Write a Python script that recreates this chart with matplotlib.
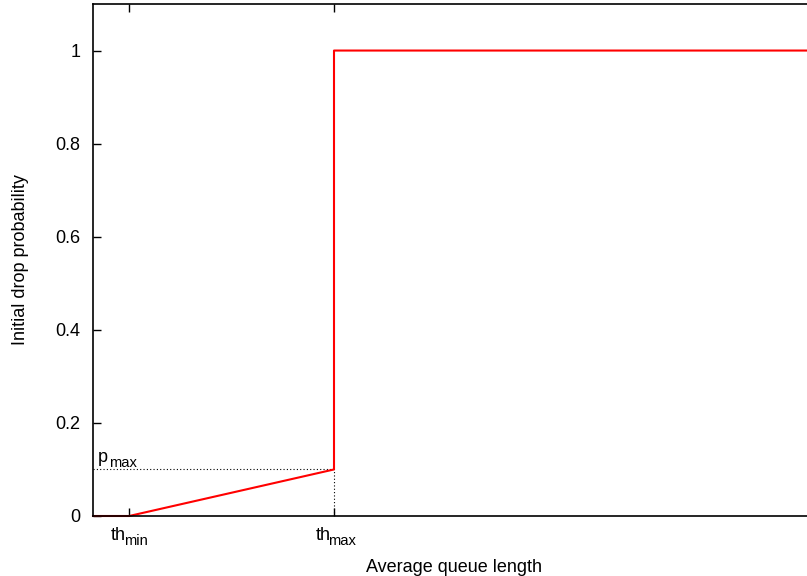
import matplotlib
matplotlib.use("Agg")
import matplotlib.pyplot as plt

plt.rcParams['font.family'] = ['Liberation Sans', 'DejaVu Sans']
plt.rcParams['font.size'] = 13

# RED drop curve (gentle drop off)
th_min = 3
th_max = 20
p_max = 0.1
x_end = 60
curve_x = [0, th_min, th_max, th_max, x_end]
curve_y = [0, 0, p_max, 1, 1]

yticks = [0, 0.2, 0.4, 0.6, 0.8, 1]
ytick_labels = ['0', '0.2', '0.4', '0.6', '0.8', '1']
xticks = [th_min, th_max]
xtick_subs = ['min', 'max']

fig = plt.figure(figsize=(8.07, 5.76), dpi=100)
ax = fig.add_axes([93 / 807, 60 / 576, 723 / 807, 512 / 576])


def sub_label(ax, base, sub, xy, coords, dx, dy, gap=-1.5):
    """ gnuplot style label: base text + a lowered, smaller subscript """
    ax.annotate(base, xy=xy, xycoords=coords, xytext=(dx, dy),
                textcoords='offset points', ha='right', va='baseline',
                fontsize=13, annotation_clip=False)
    ax.annotate(sub, xy=xy, xycoords=coords, xytext=(dx + gap, dy - 3.4),
                textcoords='offset points', ha='left', va='baseline',
                fontsize=10.6, annotation_clip=False)


# guide lines for p_max and th_max
ax.plot([0, th_max], [p_max, p_max], color='black', linestyle=(0, (1, 2)), linewidth=0.8)
ax.plot([th_max, th_max], [0, p_max], color='black', linestyle=(0, (1, 2)), linewidth=0.8)
sub_label(ax, 'p', 'max', (0, p_max), 'data', 11, 5.5, gap=0.2)

ax.plot(curve_x, curve_y, color='red', linewidth=1.5, clip_on=False, zorder=2)

ax.set_xlim(0, x_end)
ax.set_ylim(0, 1.1)
ax.set_yticks(yticks)
ax.set_yticklabels(ytick_labels)
ax.set_xticks(xticks)
ax.set_xticklabels(['', ''])
for x, s in zip(xticks, xtick_subs):
    sub_label(ax, 'th', s, (x, 0), ('data', 'axes fraction'), -2.5, -17.5)

ax.tick_params(direction='in', length=6, width=1, top=True, right=False, pad=9)
for s in ax.spines.values():
    s.set_linewidth(1.2)
    s.set_zorder(3)
ax.spines['right'].set_visible(False)

ax.set_xlabel('Average queue length', labelpad=22)
ax.set_ylabel('Initial drop probability', labelpad=19)

fig.savefig('out.png', dpi=100)
